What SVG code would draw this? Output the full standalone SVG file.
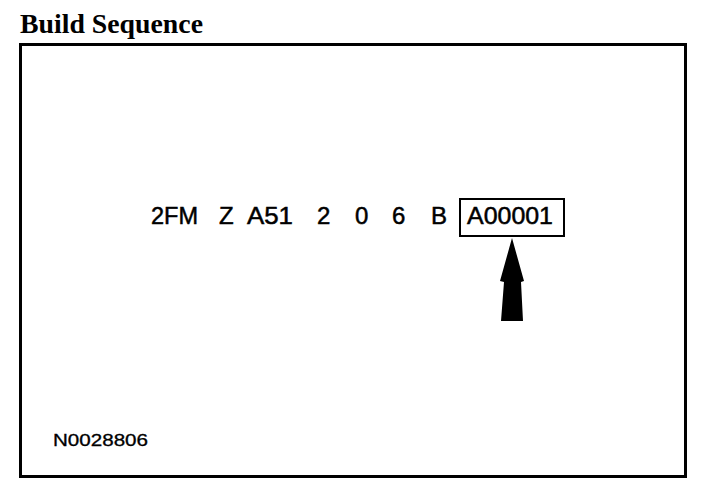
<svg xmlns="http://www.w3.org/2000/svg" width="704" height="496" viewBox="0 0 704 496">
  <style>
    .title { font-family: "Liberation Serif", "Times New Roman", serif; font-weight: bold; font-size: 28px; fill: #000; }
    .code { font-family: "Liberation Sans", Arial, sans-serif; font-size: 24px; fill: #000; stroke: #000; stroke-width: 0.5; }
    .ref { font-family: "Liberation Sans", Arial, sans-serif; font-size: 16px; fill: #000; stroke: #000; stroke-width: 0.3; }
    .frame { fill: #fff; stroke: #000; stroke-width: 3; }
    .box { fill: none; stroke: #000; stroke-width: 2; }
    .arrow { fill: #000; stroke: none; }
  </style>
  <rect width="704" height="496" fill="#fff"/>
  <g id="title">
    <text class="title" x="20" y="33" textLength="183" lengthAdjust="spacingAndGlyphs">Build Sequence</text>
  </g>
  <g id="frame">
    <rect class="frame" x="20.5" y="44.5" width="665" height="432"/>
  </g>
  <g id="sequence">
    <text class="code" x="151" y="224" textLength="47" lengthAdjust="spacingAndGlyphs">2FM</text>
    <text class="code" x="219" y="224">Z</text>
    <text class="code" x="247" y="224" textLength="46" lengthAdjust="spacingAndGlyphs">A51</text>
    <text class="code" x="317" y="224">2</text>
    <text class="code" x="355" y="224">0</text>
    <text class="code" x="392" y="224">6</text>
    <text class="code" x="431" y="224">B</text>
  </g>
  <g id="serial">
    <rect class="box" x="460" y="199" width="104" height="37"/>
    <text class="code" x="467" y="224" textLength="86" lengthAdjust="spacingAndGlyphs">A00001</text>
  </g>
  <g id="connectors">
    <polygon class="arrow" points="512,238 524,281 521,282 523,321 501,321 504,282 500,281"/>
  </g>
  <g id="figure-number">
    <text class="ref" x="53" y="446" textLength="95" lengthAdjust="spacingAndGlyphs">N0028806</text>
  </g>
</svg>
